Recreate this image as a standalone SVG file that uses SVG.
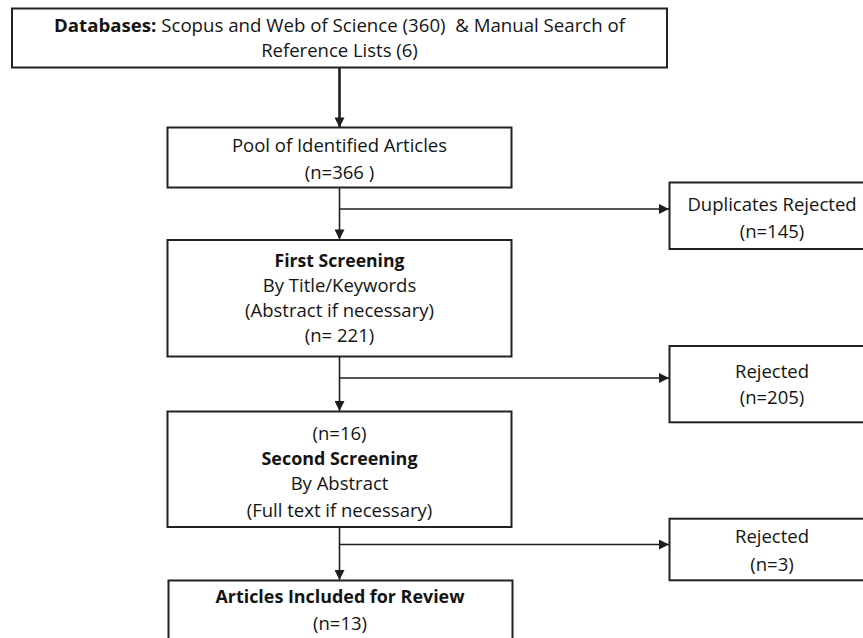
<svg xmlns="http://www.w3.org/2000/svg" width="863" height="638" viewBox="0 0 863 638">
  <style>
    .box { fill: #ffffff; stroke: #222222; stroke-width: 2; }
    .t { font-family: "Open Sans", "Liberation Sans", sans-serif; font-size: 18.5px; fill: #141414; text-anchor: middle; }
    .b { font-weight: bold; }
    .conn { stroke: #1e1e1e; stroke-width: 1.6; fill: none; }
    .thick { stroke-width: 2.6; }
  </style>
  <defs>
    <marker id="arr" viewBox="0 0 10 10" refX="10" refY="5" markerWidth="11" markerHeight="10" markerUnits="userSpaceOnUse" orient="auto">
      <path d="M0,0 L10,5 L0,10 z" fill="#1e1e1e"/>
    </marker>
  </defs>
  <rect width="863" height="638" fill="#ffffff"/>

  <g id="connectors">
    <line class="conn thick" x1="339.5" y1="67.5" x2="339.5" y2="127.5" marker-end="url(#arr)"/>
    <line class="conn" x1="339.5" y1="187.5" x2="339.5" y2="239.5" marker-end="url(#arr)"/>
    <line class="conn" x1="339.5" y1="209" x2="669" y2="209" marker-end="url(#arr)"/>
    <line class="conn" x1="339.5" y1="356.5" x2="339.5" y2="411" marker-end="url(#arr)"/>
    <line class="conn" x1="339.5" y1="378" x2="669" y2="378" marker-end="url(#arr)"/>
    <line class="conn" x1="339.5" y1="527" x2="339.5" y2="580" marker-end="url(#arr)"/>
    <line class="conn" x1="339.5" y1="544.5" x2="669" y2="544.5" marker-end="url(#arr)"/>
  </g>

  <g id="databases">
    <rect class="box" x="12" y="8.5" width="655" height="59"/>
    <text class="t" x="339.5" y="31.5" textLength="571" lengthAdjust="spacingAndGlyphs" xml:space="preserve"><tspan class="b">Databases:</tspan> Scopus and Web of Science (360)  &amp; Manual Search of</text>
    <text class="t" x="339.5" y="56.5">Reference Lists (6)</text>
  </g>

  <g id="pool">
    <rect class="box" x="167.5" y="127.5" width="344" height="60"/>
    <text class="t" x="339.5" y="152">Pool of Identified Articles</text>
    <text class="t" x="339.5" y="179">(n=366 )</text>
  </g>

  <g id="duplicates">
    <rect class="box" x="669.5" y="182.5" width="205" height="66.5"/>
    <text class="t" x="772" y="210.5">Duplicates Rejected</text>
    <text class="t" x="772" y="237.5">(n=145)</text>
  </g>

  <g id="first-screening">
    <rect class="box" x="167.5" y="240" width="344" height="116.5"/>
    <text class="t b" x="339.5" y="266.7" textLength="130" lengthAdjust="spacingAndGlyphs">First Screening</text>
    <text class="t" x="339.5" y="291.7">By Title/Keywords</text>
    <text class="t" x="339.5" y="316.7">(Abstract if necessary)</text>
    <text class="t" x="339.5" y="341.7">(n= 221)</text>
  </g>

  <g id="rejected-205">
    <rect class="box" x="669.5" y="346" width="205" height="76.3"/>
    <text class="t" x="772" y="377.7">Rejected</text>
    <text class="t" x="772" y="404">(n=205)</text>
  </g>

  <g id="second-screening">
    <rect class="box" x="167.5" y="411.5" width="344" height="115.5"/>
    <text class="t" x="339.5" y="440">(n=16)</text>
    <text class="t b" x="339.5" y="465" textLength="156" lengthAdjust="spacingAndGlyphs">Second Screening</text>
    <text class="t" x="339.5" y="490">By Abstract</text>
    <text class="t" x="339.5" y="516.7">(Full text if necessary)</text>
  </g>

  <g id="rejected-3">
    <rect class="box" x="669.5" y="518.7" width="205" height="61.6"/>
    <text class="t" x="772" y="543.3">Rejected</text>
    <text class="t" x="772" y="570.7">(n=3)</text>
  </g>

  <g id="included">
    <rect class="box" x="168.5" y="580.5" width="344" height="70"/>
    <text class="t b" x="340" y="603.3" textLength="249" lengthAdjust="spacingAndGlyphs">Articles Included for Review</text>
    <text class="t" x="340" y="630">(n=13)</text>
  </g>
</svg>
